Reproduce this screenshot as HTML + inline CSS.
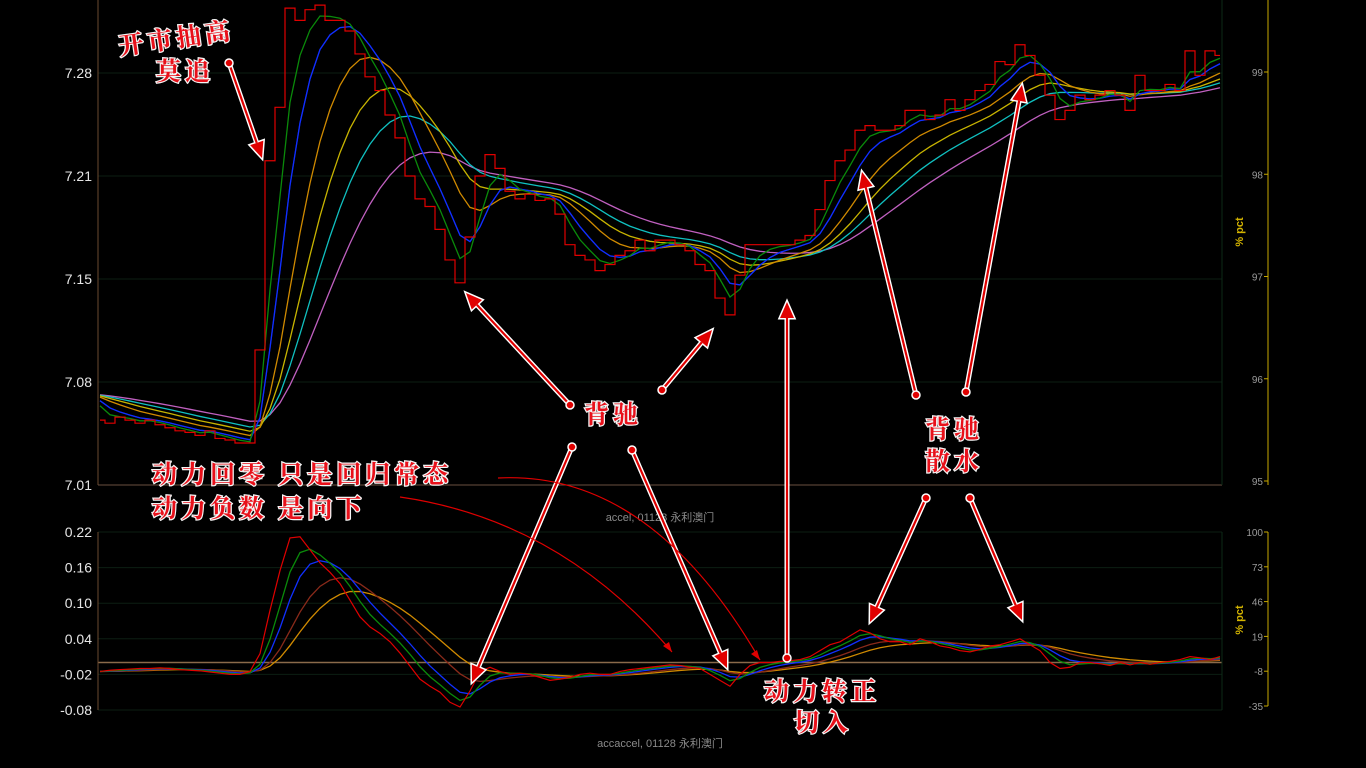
<!DOCTYPE html>
<html><head><meta charset="utf-8">
<style>
html,body{margin:0;padding:0;background:#000;width:1366px;height:768px;overflow:hidden}
svg{display:block}
.tk{font-family:"Liberation Sans",sans-serif;font-size:14px;fill:#e6e6e6}
.rt{font-family:"Liberation Sans",sans-serif;font-size:10px;fill:#9a9a9a}
.ttl{font-family:"Liberation Sans","Noto Sans CJK SC",sans-serif;font-size:11px;fill:#8a8a8a}
.ann{font-family:"Noto Serif CJK SC","WenQuanYi Zen Hei",serif;font-size:25px;fill:#e8101a;stroke:#f4f4f4;stroke-width:2.5px;paint-order:stroke;letter-spacing:4px;font-weight:bold}
</style></head>
<body>
<svg id="chart" width="1366" height="768">
<g id="grid"></g><g id="series"></g><g id="axes"></g><g id="anno"></g>
</svg>
<script>
const priceTicks=[7.0125,7.08,7.1475,7.215,7.2825];
const pctTicks=[95,96,97,98,99];
const accTicks=[-0.08,-0.02,0.04,0.10,0.16,0.22];
const accPctTicks=[-35,-8,19,46,73,100];
const maPeriods=[2,3,4,7,11,16,22];
const maColors=['#0a8a0a','#1030ff','#101090','#d08a00','#c8b400','#10c0c0','#c060c0'];
const accPeriods=[2,3,7,12];
const accColors=['#0a8a0a','#1030ff','#8a2a1a','#d08a00'];
const priceSeed=7.072;
const price=[7.055,7.053,7.057,7.055,7.053,7.055,7.052,7.050,7.048,7.047,7.045,7.048,7.043,7.042,7.040,7.040,
7.101,7.225,7.260,7.325,7.317,7.324,7.327,7.317,7.317,7.310,7.295,7.280,7.271,7.255,7.240,7.215,7.200,7.195,7.180,7.160,7.145,
7.175,7.215,7.229,7.220,7.205,7.200,7.203,7.199,7.200,7.190,7.170,7.163,7.160,7.153,7.157,7.163,7.166,7.173,7.166,7.173,7.173,
7.170,7.166,7.157,7.153,7.135,7.124,7.150,7.170,7.170,7.170,7.170,7.170,7.173,7.176,7.193,7.212,7.225,7.232,7.245,7.248,7.245,
7.245,7.248,7.258,7.258,7.252,7.255,7.265,7.258,7.265,7.271,7.275,7.290,7.288,7.301,7.294,7.281,7.268,7.252,7.258,7.268,7.265,
7.268,7.271,7.268,7.258,7.281,7.271,7.271,7.275,7.271,7.297,7.281,7.297,7.294];
const accel=[-0.015,-0.013,-0.012,-0.011,-0.01,-0.01,-0.009,-0.01,-0.012,-0.013,-0.014,-0.016,-0.018,-0.02,-0.02,-0.015,
0.015,0.088,0.155,0.21,0.212,0.19,0.168,0.152,0.133,0.105,0.077,0.06,0.049,0.035,0.016,-0.006,-0.028,-0.04,-0.05,-0.067,-0.075,
-0.048,-0.015,-0.008,-0.015,-0.02,-0.018,-0.02,-0.025,-0.03,-0.028,-0.025,-0.02,-0.018,-0.02,-0.02,-0.015,-0.012,-0.01,-0.008,
-0.006,-0.004,-0.005,-0.008,-0.01,-0.02,-0.03,-0.04,-0.02,-0.005,0,0,0.002,0.003,0.005,0.01,0.02,0.03,0.035,0.045,0.055,0.05,
0.04,0.035,0.035,0.03,0.04,0.035,0.028,0.025,0.02,0.018,0.022,0.028,0.03,0.035,0.04,0.03,0.02,0,-0.01,-0.008,0,0,-0.002,-0.005,
0,-0.004,0,-0.003,0,0.002,0.005,0.01,0.008,0.005,0.01];

const NS='http://www.w3.org/2000/svg';
function mk(tag,attrs,parent){const e=document.createElementNS(NS,tag);for(const k in attrs)e.setAttribute(k,attrs[k]);parent.appendChild(e);return e;}
const X0=100,X1=1220;
const xs=i=>X0+(X1-X0)*i/(price.length-1);
const yP=v=>485-(v-7.0125)/(7.2825-7.0125)*412;
const yA=v=>710-(v+0.08)/0.30*178;
const yR=v=>481-(v-95)/4*409;
const yRA=v=>706-(v+35)/135*174;
function ema(arr,p,seed){const a=2/(p+1);let s=seed;return arr.map(v=>(s=s+a*(v-s)));}
function smooth(arr,p,seed){const q=Math.max(1,Math.round(p/2));return ema(ema(arr,q+1,seed),q+1,seed);}
const grid=document.getElementById('grid'),series=document.getElementById('series'),axes=document.getElementById('axes'),anno=document.getElementById('anno');

priceTicks.forEach(t=>{const l=mk('line',{x1:98,x2:1222,y1:yP(t),y2:yP(t),stroke:'#0c1e12','stroke-width':1},grid);
});
accTicks.forEach(t=>{const l=mk('line',{x1:98,x2:1222,y1:yA(t),y2:yA(t),stroke:'#0c1e12','stroke-width':1},grid);
});

maPeriods.slice().reverse().forEach((p,k)=>{const idx=maPeriods.length-1-k;const m=smooth(price,p,priceSeed);
const pl=mk('polyline',{points:m.map((v,i)=>xs(i)+','+yP(v)).join(' '),fill:'none',stroke:maColors[idx],'stroke-width':1.3},series);
});
let pts=[];price.forEach((v,i)=>{if(i>0)pts.push((xs(i)-5)+','+yP(price[i-1]),(xs(i)-5)+','+yP(v));pts.push(xs(i)+','+yP(v));});
const pr=mk('polyline',{points:pts.join(' '),fill:'none',stroke:'#e00000','stroke-width':1.2},series);


const zl=mk('line',{x1:98,x2:1222,y1:yA(0),y2:yA(0),stroke:'#8a6a4a','stroke-width':1.5},series);

accPeriods.slice().reverse().forEach((p,k)=>{const idx=accPeriods.length-1-k;const m=smooth(accel,p,accel[0]);
const pl=mk('polyline',{points:m.map((v,i)=>xs(i)+','+yA(v)).join(' '),fill:'none',stroke:accColors[idx],'stroke-width':1.3},series);
});
const ar=mk('polyline',{points:accel.map((v,i)=>xs(i)+','+yA(v)).join(' '),fill:'none',stroke:'#e00000','stroke-width':1.2},series);


[[98,0,98,485,'#6a4a30'],[98,532,98,710,'#6a4a30'],[98,485,1222,485,'#6a5040'],[1222,0,1222,485,'#0c2a16'],[1222,532,1222,710,'#0c2a16'],[1268,0,1268,485,'#c8a800'],[1268,532,1268,706,'#c8a800']].forEach(a=>{
const l=mk('line',{x1:a[0],y1:a[1],x2:a[2],y2:a[3],stroke:a[4],'stroke-width':1},axes);});
priceTicks.forEach(t=>{const e=mk('text',{x:92,y:yP(t)+5,'text-anchor':'end',class:'tk'},axes);e.textContent=t.toFixed(2);
});
accTicks.forEach(t=>{const e=mk('text',{x:92,y:yA(t)+5,'text-anchor':'end',class:'tk'},axes);e.textContent=t.toFixed(2);
});
pctTicks.forEach(t=>{const e=mk('text',{x:1263,y:yR(t)+4,'text-anchor':'end',class:'rt'},axes);e.textContent=t;

mk('line',{x1:1264,x2:1268,y1:yR(t),y2:yR(t),stroke:'#c8a800'},axes);});
accPctTicks.forEach(t=>{const e=mk('text',{x:1263,y:yRA(t)+4,'text-anchor':'end',class:'rt'},axes);e.textContent=t;

mk('line',{x1:1264,x2:1268,y1:yRA(t),y2:yRA(t),stroke:'#c8a800'},axes);});
[[1243,232],[1243,620]].forEach(p=>{const e=mk('text',{x:p[0],y:p[1],transform:'rotate(-90 '+p[0]+' '+p[1]+')','text-anchor':'middle',style:'font-family:Liberation Sans,sans-serif;font-size:11px;fill:#d4b400;font-weight:bold'},axes);
e.textContent='% pct';});
let t1=mk('text',{x:660,y:521,'text-anchor':'middle',class:'ttl'},axes);t1.textContent='accel, 01128 永利澳门';

let t2=mk('text',{x:660,y:747,'text-anchor':'middle',class:'ttl'},axes);t2.textContent='accaccel, 01128 永利澳门';


function arrow(x1,y1,x2,y2){const g=mk('g',{},anno);
const ang=Math.atan2(y2-y1,x2-x1),L=16,W=7;
const bx=x2-L*Math.cos(ang),by=y2-L*Math.sin(ang);
const h=[x2+','+y2,(bx+W*Math.sin(ang))+','+(by-W*Math.cos(ang)),(bx-W*Math.sin(ang))+','+(by+W*Math.cos(ang))].join(' ');
mk('line',{x1:x1,y1:y1,x2:bx,y2:by,stroke:'#fff','stroke-width':5},g);
mk('polygon',{points:h,fill:'#fff',stroke:'#fff','stroke-width':3},g);
mk('line',{x1:x1,y1:y1,x2:bx,y2:by,stroke:'#e00000','stroke-width':2.2},g);
mk('polygon',{points:h,fill:'#e00000'},g);
mk('circle',{cx:x1,cy:y1,r:4,fill:'#e00000',stroke:'#fff','stroke-width':1.5},g);
}
arrow(229,63,262,158);arrow(570,405,466,293);arrow(662,390,712,330);arrow(572,447,472,682);arrow(632,450,727,668);
arrow(787,658,787,302);arrow(916,395,862,172);arrow(966,392,1022,85);arrow(926,498,870,622);arrow(970,498,1022,620);
[['M498,478 Q650,470 760,660',760,660],['M400,497 Q560,520 672,652',672,652]].forEach(c=>{
const p=mk('path',{d:c[0],fill:'none',stroke:'#e00000','stroke-width':1.2},anno);
mk('polygon',{points:c[1]+','+c[2]+' '+(c[1]-9)+','+(c[2]-6)+' '+(c[1]-3)+','+(c[2]-10),fill:'#e00000'},anno);});
[['开市抽高',120,55,-8],['莫追',156,80,0],['背驰',584,423,0],['背驰',925,438,0],['散水',925,470,0],
['动力回零 只是回归常态',152,483,0],['动力负数 是向下',152,517,0],['动力转正',764,700,0],['切入',794,731,0]].forEach(a=>{
const e=mk('text',{x:a[1],y:a[2],class:'ann',transform:'rotate('+a[3]+' '+a[1]+' '+a[2]+')'},anno);e.textContent=a[0];
});
</script>
</body></html>
